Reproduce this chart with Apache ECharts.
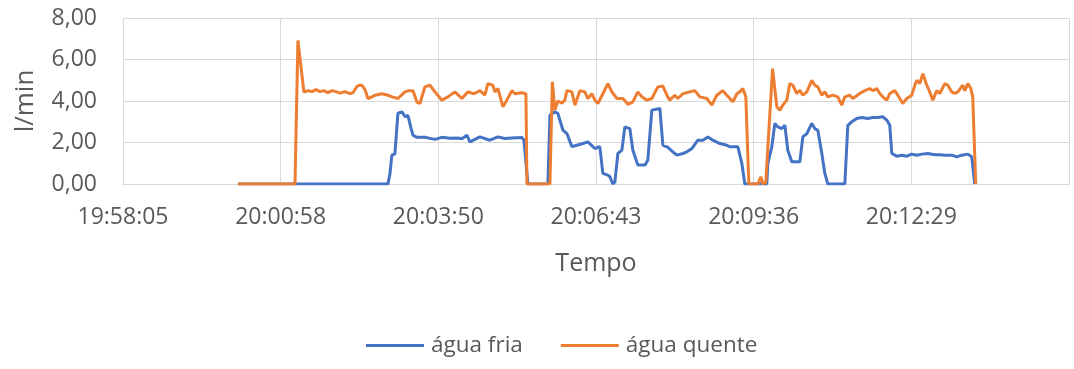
<!DOCTYPE html>
<html>
<head>
<meta charset="utf-8">
<script src="https://cdn.jsdelivr.net/npm/echarts@6/dist/echarts.min.js"></script>
<style>
html,body{margin:0;padding:0;background:#fff;}
#chart{width:1074px;height:369px;}
</style>
</head>
<body>
<div id="chart"></div>
<script>
// Time axis: seconds elapsed since 19:58:04.8 (axis origin); one major unit = 172.8 s
const xTickLabels = ['19:58:05', '20:00:58', '20:03:50', '20:06:43', '20:09:36', '20:12:29'];
const yTickLabels = ['0,00', '2,00', '4,00', '6,00', '8,00'];
const seriesNames = ['água fria', 'água quente'];

const friaTempo = [126.0,290.4,292.6,294.7,298.0,301.3,305.7,309.0,312.3,315.6,317.8,322.1,330.9,336.4,341.9,349.5,358.3,367.1,371.4,376.9,380.2,385.7,391.2,402.1,410.9,418.6,426.2,437.2,439.4,443.8,465.7,467.9,473.3,476.6,482.1,486.5,492.0,497.4,504.0,509.5,517.2,522.6,525.9,531.4,533.6,536.9,539.1,542.4,546.8,550.0,555.5,558.8,564.3,572.0,575.2,579.6,588.4,591.7,597.2,602.6,607.0,613.6,618.0,623.5,630.0,635.5,641.0,646.5,654.1,661.8,665.1,673.9,678.2,681.5,705.6,706.7,711.1,714.4,717.7,722.1,725.4,728.6,733.0,741.8,745.1,749.5,754.9,758.2,761.5,765.9,769.2,772.5,791.1,794.4,798.8,804.2,809.7,816.3,821.8,827.3,832.7,837.1,840.4,842.6,848.1,853.6,859.0,864.5,870.0,875.5,882.0,889.7,895.2,900.7,908.3,913.8,919.3,925.9,930.2,933.5];
const friaVazao = [0,0,0.5,1.39,1.45,3.41,3.48,3.25,3.3,2.7,2.35,2.25,2.25,2.2,2.15,2.25,2.2,2.22,2.18,2.35,2.03,2.15,2.27,2.11,2.27,2.19,2.22,2.24,2.11,0,0,3.31,3.48,3.4,2.6,2.43,1.8,1.87,1.95,2.03,1.71,1.8,0.51,0.43,0.35,0,0.1,1.47,1.63,2.75,2.67,1.63,0.91,0.91,1.15,3.56,3.64,1.87,1.76,1.55,1.39,1.47,1.55,1.71,2.11,2.11,2.27,2.11,1.95,1.87,1.79,1.79,1.0,0,0,0.99,1.79,2.92,2.75,2.67,2.83,1.63,1.07,1.07,2.27,2.43,2.92,2.67,2.59,1.47,0.51,0,0,2.83,3.0,3.16,3.2,3.16,3.2,3.2,3.24,3.08,2.83,1.47,1.34,1.39,1.34,1.44,1.39,1.44,1.47,1.41,1.41,1.39,1.39,1.31,1.39,1.44,1.31,0];

const quenteTempo = [126.0,188.5,191.7,198.3,202.7,207.1,211.5,215.9,220.2,224.6,229.0,233.4,237.8,243.2,248.7,252.0,256.4,259.7,261.9,265.2,268.4,272.8,276.1,283.8,290.4,294.7,301.3,309.0,313.4,317.8,322.1,325.4,330.9,336.4,341.9,349.5,356.1,363.8,371.4,378.0,384.6,391.2,396.6,399.9,405.4,407.6,410.9,416.4,420.7,426.2,429.5,437.2,441.6,442.7,467.9,470.6,473.3,476.6,481.0,484.3,486.5,492.0,495.3,500.7,506.2,509.5,513.9,517.2,520.5,525.9,531.4,535.8,541.3,547.9,553.3,558.8,564.3,568.7,574.1,579.6,586.2,591.7,596.1,599.3,604.8,608.1,613.6,621.3,626.7,632.2,639.9,645.4,650.8,657.4,661.8,668.4,672.8,676.0,679.3,682.6,685.9,695.8,699.1,701.2,704.5,711.9,716.6,719.9,723.2,727.5,730.8,734.1,738.5,741.8,745.1,749.5,754.9,758.2,761.5,765.9,769.2,772.5,777.9,783.4,787.8,791.1,796.6,799.9,802.0,807.5,813.0,818.5,821.8,826.2,829.4,832.7,837.1,840.4,845.9,849.2,854.6,859.0,864.5,867.8,870.0,873.3,876.6,880.9,884.2,887.5,891.9,895.2,900.7,903.9,908.3,911.6,914.9,920.4,922.6,925.9,929.2,931.3,934.6];
const quenteVazao = [0,0,6.92,4.43,4.5,4.45,4.55,4.45,4.5,4.4,4.5,4.45,4.38,4.45,4.35,4.4,4.7,4.76,4.76,4.55,4.12,4.2,4.28,4.35,4.28,4.2,4.12,4.44,4.5,4.5,3.95,3.88,4.68,4.76,4.44,4.04,4.2,4.44,4.12,4.44,4.35,4.5,4.28,4.84,4.76,4.44,4.6,3.72,4.04,4.5,4.35,4.4,4.35,0,0,4.92,3.56,4.0,3.9,4.04,4.5,4.44,3.8,4.5,4.44,4.12,4.35,4.04,3.88,4.35,4.84,4.44,4.12,4.12,3.84,3.96,4.44,4.2,4.04,4.12,4.68,4.72,4.28,4.04,4.28,4.12,4.35,4.44,4.5,4.2,4.12,3.8,4.28,4.5,4.28,3.96,4.35,4.44,4.6,4.2,0,0,0.35,0,0.08,5.56,3.72,3.56,3.8,4.04,4.84,4.76,4.36,4.52,4.28,4.44,5.0,4.76,4.68,4.28,4.44,4.2,4.28,4.2,3.8,4.2,4.28,4.12,4.12,4.36,4.5,4.6,4.5,4.6,4.36,4.2,4.04,4.36,4.5,4.28,3.88,4.12,4.28,4.76,5.0,4.84,5.32,4.76,4.44,4.04,4.5,4.36,4.84,4.76,4.44,4.36,4.44,4.76,4.5,4.84,4.6,4.2,0];

const X_INTERVAL = 172.8;
const X_MAX = X_INTERVAL * 6;

function pairs(t, v) { return t.map((x, i) => [x, v[i]]); }

const gridGray = '#d9d9d9';
const textGray = '#595959';
const FONT = '"Open Sans", sans-serif';

const chart = echarts.init(document.getElementById('chart'), null, { renderer: 'canvas' });
chart.setOption({
  animation: false,
  backgroundColor: '#ffffff',
  textStyle: { fontFamily: FONT },
  grid: { left: 123, right: 5, top: 18, bottom: 185, containLabel: false },
  xAxis: {
    type: 'value',
    min: 0,
    max: X_MAX,
    interval: X_INTERVAL,
    name: 'Tempo',
    nameLocation: 'middle',
    nameGap: 67,
    nameTextStyle: { color: textGray, fontSize: 25, fontFamily: FONT },
    axisLine: { show: true, lineStyle: { color: gridGray, width: 1 } },
    axisTick: { show: false },
    axisLabel: {
      color: textGray, fontSize: 23, fontFamily: FONT, margin: 22,
      showMaxLabel: false,
      formatter: function (v) { const i = Math.round(v / X_INTERVAL); return xTickLabels[i] || ''; }
    },
    splitLine: {
      show: true,
      lineStyle: { color: [gridGray, gridGray, gridGray, gridGray, gridGray, gridGray, 'rgba(0,0,0,0)'], width: 1 }
    }
  },
  yAxis: {
    type: 'value',
    min: 0,
    max: 8,
    interval: 2,
    name: 'l/min',
    nameLocation: 'middle',
    nameGap: 84,
    nameRotate: 90,
    nameTextStyle: { color: textGray, fontSize: 26, fontFamily: FONT },
    axisLine: { show: false },
    axisTick: { show: false },
    axisLabel: {
      color: textGray, fontSize: 23, fontFamily: FONT, margin: 26,
      formatter: function (v) { return yTickLabels[Math.round(v / 2)]; }
    },
    splitLine: { show: true, lineStyle: { color: gridGray, width: 1 } }
  },
  legend: {
    left: 361,
    top: 329,
    itemWidth: 58,
    itemHeight: 3,
    itemGap: 38,
    icon: 'rect',
    textStyle: { color: textGray, fontSize: 22.5, fontFamily: FONT, padding: [0, 0, 0, 2] },
    data: seriesNames
  },
  series: [
    {
      name: seriesNames[0], type: 'line', showSymbol: false, symbol: 'none',
      color: '#4472C4',
      lineStyle: { color: '#4472C4', width: 3 },
      data: pairs(friaTempo, friaVazao)
    },
    {
      name: seriesNames[1], type: 'line', showSymbol: false, symbol: 'none',
      color: '#ED7D31',
      lineStyle: { color: '#ED7D31', width: 3 },
      data: pairs(quenteTempo, quenteVazao)
    }
  ]
});
</script>
</body>
</html>
